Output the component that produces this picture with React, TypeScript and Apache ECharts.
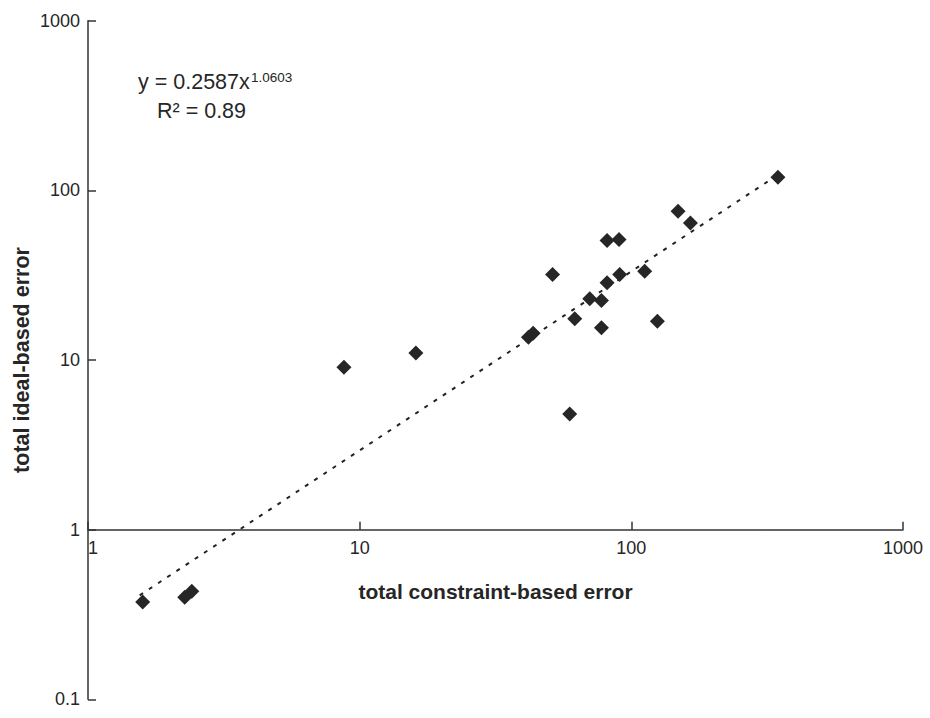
import React, { useEffect, useRef } from "react";
import * as echarts from "echarts";

// Scatter points: total constraint-based error (x) vs total ideal-based error (y)
const constraintError = [
  1.59, 2.27, 2.41, 8.75, 16.1, 41.8, 43.5, 51.3, 59.3, 61.9, 70.3,
  77.6, 77.6, 81.4, 90.1, 81.4, 90.6, 112, 124.7, 148.6, 165, 346.5,
];
const idealError = [
  0.375, 0.4, 0.433, 9.07, 11.0, 13.6, 14.4, 31.9, 4.81, 17.5, 23.0,
  22.4, 15.5, 50.6, 51.3, 28.5, 31.9, 33.4, 16.9, 75.4, 64.3, 119.6,
];

// Power-law trendline endpoints (y = 0.2587 x^1.0603)
const trendX = [1.55, 345];
const trendY = [0.41, 123];

const xTicks = [1, 10, 100, 1000];
const yTicks = [0.1, 1, 10, 100, 1000];

const equationMain = "y = 0.2587x";
const equationExp = "1.0603";
const rSquared = "R² = 0.89";

const FONT = "'Liberation Sans', Arial, sans-serif";
const INK = "#262626";

export default function App() {
  const ref = useRef<HTMLDivElement>(null);

  useEffect(() => {
    if (!ref.current) return;
    const chart = echarts.init(ref.current, null, { renderer: "svg" });

    const points = constraintError.map((x, i) => [x, idealError[i]]);
    const trend = trendX.map((x, i) => [x, trendY[i]]);

    const gridTop = 20.7;
    const gridBottom = 18.7;
    const gridH = 718 - gridTop - gridBottom;
    // x axis crosses the y axis at y = 1 : 1 decade above the bottom (0.1)
    const decades = Math.log10(yTicks[yTicks.length - 1]) - Math.log10(yTicks[0]);
    const xAxisOffset = -(gridH * (Math.log10(1) - Math.log10(yTicks[0]))) / decades;

    chart.setOption({
      animation: false,
      backgroundColor: "#ffffff",
      textStyle: { fontFamily: FONT },
      grid: { left: 88, right: 27, top: gridTop, bottom: gridBottom },
      xAxis: {
        type: "log",
        logBase: 10,
        min: xTicks[0],
        max: xTicks[xTicks.length - 1],
        position: "bottom",
        offset: xAxisOffset,
        name: "total constraint-based error",
        nameLocation: "middle",
        nameGap: 51,
        nameMoveOverlap: false,
        nameTextStyle: { fontSize: 21, fontWeight: "bold", color: INK, fontFamily: FONT },
        axisLine: { show: true, onZero: false, lineStyle: { color: "#333", width: 1.5 } },
        axisTick: { show: true, inside: true, length: 8, lineStyle: { color: "#333", width: 1.5 } },
        axisLabel: {
          show: true,
          margin: 9,
          fontSize: 18,
          color: INK,
          fontFamily: FONT,
          alignMinLabel: "left",
          formatter: (v: number) => String(v),
        },
        splitLine: { show: false },
        minorTick: { show: false },
      },
      yAxis: {
        type: "log",
        logBase: 10,
        min: yTicks[0],
        max: yTicks[yTicks.length - 1],
        name: "total ideal-based error",
        nameLocation: "middle",
        nameGap: 55,
        nameMoveOverlap: false,
        nameTextStyle: { fontSize: 21.5, fontWeight: "bold", color: INK, fontFamily: FONT },
        axisLine: { show: true, onZero: false, lineStyle: { color: "#333", width: 1.5 } },
        axisTick: { show: true, inside: true, length: 8, lineStyle: { color: "#333", width: 1.5 } },
        axisLabel: {
          show: true,
          margin: 8,
          fontSize: 18,
          color: INK,
          fontFamily: FONT,
          formatter: (v: number) => String(v),
        },
        splitLine: { show: false },
        minorTick: { show: false },
      },
      series: [
        {
          type: "line",
          data: trend,
          symbol: "none",
          lineStyle: { color: "#222", width: 2, type: [4, 7] },
          z: 1,
          silent: true,
        },
        {
          type: "scatter",
          data: points,
          symbol: "diamond",
          symbolSize: [15, 15],
          itemStyle: { color: "#262626", opacity: 1 },
          z: 2,
        },
      ],
      graphic: [
        {
          type: "text",
          left: 138,
          top: 71,
          style: { text: equationMain, fontSize: 21.5, fill: INK, fontFamily: FONT },
        },
        {
          type: "text",
          left: 251,
          top: 70,
          style: { text: equationExp, fontSize: 13.5, fill: INK, fontFamily: FONT },
        },
        {
          type: "text",
          left: 157,
          top: 100,
          style: { text: rSquared, fontSize: 21.5, fill: INK, fontFamily: FONT },
        },
      ],
    });

    return () => chart.dispose();
  }, []);

  return (
    <div
      ref={ref}
      style={{ position: "fixed", left: 0, top: 0, width: 930, height: 718, background: "#fff" }}
    />
  );
}
